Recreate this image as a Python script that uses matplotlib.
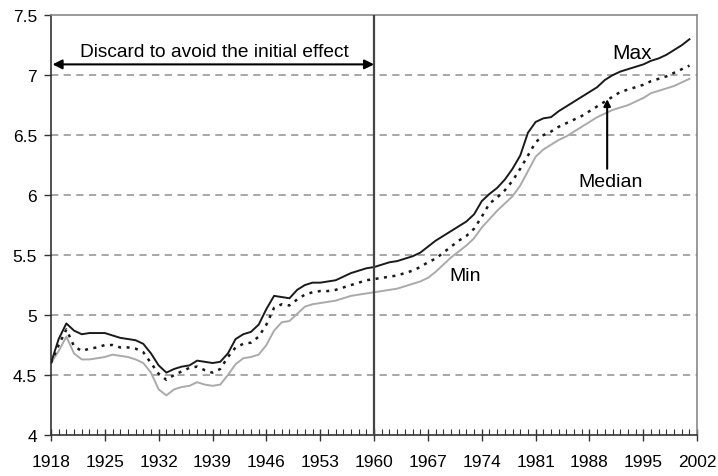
import matplotlib
matplotlib.use("Agg")
import matplotlib.pyplot as plt
from matplotlib.ticker import MultipleLocator

plt.rcParams['font.family'] = ['Liberation Sans', 'DejaVu Sans']

years = list(range(1918, 2002))

max_vals = [4.60, 4.80, 4.93, 4.87, 4.84, 4.85, 4.85, 4.85, 4.83, 4.81,
            4.80, 4.79, 4.76, 4.68, 4.58, 4.52, 4.55, 4.57, 4.58, 4.62,
            4.61, 4.60, 4.61, 4.68, 4.80, 4.84, 4.86, 4.92, 5.05, 5.16,
            5.15, 5.14, 5.21, 5.25, 5.27, 5.27, 5.28, 5.29, 5.32, 5.35,
            5.37, 5.39, 5.40, 5.42, 5.44, 5.45, 5.47, 5.49, 5.52, 5.57,
            5.62, 5.66, 5.70, 5.74, 5.78, 5.84, 5.95, 6.01, 6.06, 6.13,
            6.22, 6.33, 6.52, 6.61, 6.64, 6.65, 6.70, 6.74, 6.78, 6.82,
            6.86, 6.90, 6.96, 7.00, 7.03, 7.05, 7.07, 7.09, 7.12, 7.14,
            7.17, 7.21, 7.25, 7.30]

median_vals = [4.60, 4.75, 4.88, 4.74, 4.70, 4.72, 4.73, 4.75, 4.75, 4.73,
               4.73, 4.72, 4.69, 4.60, 4.51, 4.46, 4.50, 4.53, 4.56, 4.57,
               4.54, 4.52, 4.55, 4.65, 4.73, 4.76, 4.77, 4.82, 4.92, 5.06,
               5.09, 5.08, 5.13, 5.17, 5.19, 5.20, 5.20, 5.21, 5.23, 5.25,
               5.27, 5.29, 5.30, 5.31, 5.32, 5.33, 5.35, 5.37, 5.40, 5.44,
               5.47, 5.52, 5.57, 5.62, 5.66, 5.72, 5.82, 5.93, 5.98, 6.04,
               6.12, 6.22, 6.33, 6.44, 6.50, 6.53, 6.57, 6.60, 6.63, 6.66,
               6.70, 6.74, 6.78, 6.82, 6.86, 6.88, 6.90, 6.92, 6.95, 6.97,
               6.99, 7.02, 7.05, 7.08]

min_vals = [4.60, 4.70, 4.82, 4.68, 4.63, 4.63, 4.64, 4.65, 4.67, 4.66,
            4.65, 4.63, 4.60, 4.52, 4.38, 4.33, 4.38, 4.40, 4.41, 4.44,
            4.42, 4.41, 4.42, 4.50, 4.59, 4.64, 4.65, 4.67, 4.75, 4.87,
            4.94, 4.95, 5.01, 5.07, 5.09, 5.10, 5.11, 5.12, 5.14, 5.16,
            5.17, 5.18, 5.19, 5.20, 5.21, 5.22, 5.24, 5.26, 5.28, 5.31,
            5.36, 5.42, 5.48, 5.53, 5.58, 5.64, 5.73, 5.80, 5.87, 5.93,
            5.99, 6.08, 6.20, 6.32, 6.38, 6.42, 6.46, 6.49, 6.53, 6.57,
            6.61, 6.65, 6.68, 6.71, 6.73, 6.75, 6.78, 6.81, 6.85, 6.87,
            6.89, 6.91, 6.94, 6.97]

x_ticks = [1918, 1925, 1932, 1939, 1946, 1953, 1960, 1967, 1974, 1981, 1988, 1995, 2002]
y_ticks = [4, 4.5, 5, 5.5, 6, 6.5, 7, 7.5]
y_labels = ['4', '4.5', '5', '5.5', '6', '6.5', '7', '7.5']
cutoff_year = 1960

fig = plt.figure(figsize=(7.18, 4.77), dpi=100)
ax = fig.add_axes([0.071, 0.086, 0.900, 0.880])

ax.set_xlim(1918, 2002)
ax.set_ylim(4, 7.5)

for yv in y_ticks[1:-1]:
    ax.axhline(yv, color='#a0a0a0', lw=1.3, ls=(0, (4, 3)), zorder=1)

ax.plot(years, min_vals, color='#aaaaaa', lw=1.4, zorder=3)
ax.plot(years, median_vals, color='#1a1a1a', lw=1.8, ls=(0, (1.2, 2.2)), zorder=3)
ax.plot(years, max_vals, color='#1a1a1a', lw=1.4, zorder=4)

ax.axvline(cutoff_year, color='#444444', lw=1.6, zorder=5)

ax.annotate('', xy=(1918.2, 7.09), xytext=(cutoff_year, 7.09),
            arrowprops=dict(arrowstyle='<|-|>', color='black', lw=1.5,
                            mutation_scale=14, shrinkA=0, shrinkB=0))
ax.text(1939.3, 7.2, 'Discard to avoid the initial effect', ha='center', va='center',
        fontsize=13.8)

ax.text(1993.5, 7.19, 'Max', ha='center', va='center', fontsize=15)
ax.text(1971.8, 5.33, 'Min', ha='center', va='center', fontsize=14)
ax.text(1990.7, 6.11, 'Median', ha='center', va='center', fontsize=14)
ax.annotate('', xy=(1990.3, 6.80), xytext=(1990.3, 6.22),
            arrowprops=dict(arrowstyle='-|>', color='black', lw=1.5,
                            mutation_scale=10, shrinkA=0, shrinkB=0))

ax.set_xticks(x_ticks)
ax.set_xticklabels([str(t) for t in x_ticks], fontsize=12.5)
ax.xaxis.set_minor_locator(MultipleLocator(1))
ax.set_yticks(y_ticks)
ax.set_yticklabels(y_labels, fontsize=12.5)

ax.tick_params(axis='x', which='major', direction='inout', length=8, width=1, color='#333333', pad=10)
ax.tick_params(axis='x', which='minor', direction='in', length=4, width=0.8, color='#333333')
ax.tick_params(axis='y', which='major', direction='out', length=5, width=1, color='#333333', pad=5)

ax.spines['left'].set_color('#333333')
ax.spines['bottom'].set_color('#333333')
ax.spines['top'].set_color('#888888')
ax.spines['right'].set_color('#888888')
for s in ax.spines.values():
    s.set_linewidth(1.2)

fig.savefig('out.png', dpi=100)
